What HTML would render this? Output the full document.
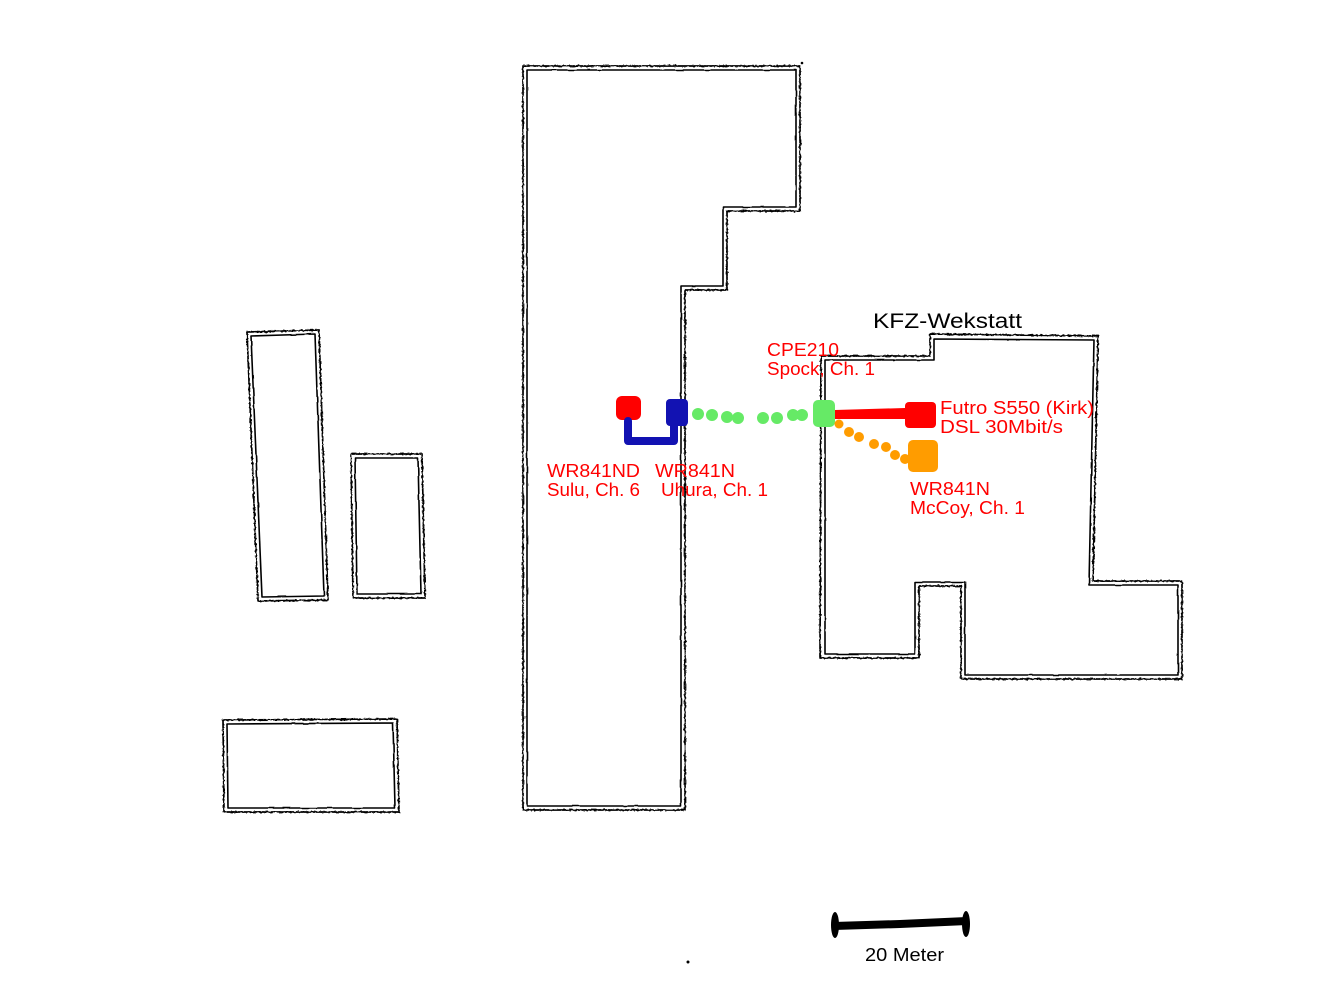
<!DOCTYPE html>
<html><head><meta charset="utf-8"><style>
html,body{margin:0;padding:0;background:#fff;}
svg{display:block;}
text{font-family:"Liberation Sans",sans-serif;}
</style></head><body>
<svg width="1324" height="1004" viewBox="0 0 1324 1004" xmlns="http://www.w3.org/2000/svg">
<defs>
  <filter id="rough" x="-5%" y="-5%" width="110%" height="110%">
    <feTurbulence type="fractalNoise" baseFrequency="0.35" numOctaves="2" seed="3" result="n"/>
    <feDisplacementMap in="SourceGraphic" in2="n" scale="2.6" xChannelSelector="R" yChannelSelector="G"/>
  </filter>
  <filter id="soft" x="-5%" y="-5%" width="110%" height="110%">
    <feTurbulence type="fractalNoise" baseFrequency="0.08" numOctaves="1" seed="7" result="n"/>
    <feDisplacementMap in="SourceGraphic" in2="n" scale="1.5" xChannelSelector="R" yChannelSelector="G"/>
  </filter>
</defs>
<rect width="1324" height="1004" fill="#fff"/>
<g fill="none" stroke="#000" stroke-linejoin="round" filter="url(#rough)">
  <polygon points="523,66 800,66 800,211 727,211 727,290 685,290 685,810 523,810" stroke-width="1.7"/>
  <polygon points="247,332 319,330 328,600 258,601" stroke-width="1.7"/>
  <polygon points="351,454 422,454 425,598 353,598" stroke-width="1.7"/>
  <polygon points="223,720 397,719 399,812 224,812" stroke-width="1.7"/>
  <polygon points="821,356 930,356 930,334 1098,336 1093,581 1182,581 1182,679 961,679 961,586 919,586 919,658 820,658" stroke-width="1.7"/>
</g>
<g fill="none" stroke="#000" stroke-linejoin="round" filter="url(#soft)">
  <polygon points="527,70 796,70 796,207 723,207 723,286 681,286 681,806 527,806" stroke-width="1.6"/>
  <polygon points="251,336 315,334 324,596 262,597" stroke-width="1.6"/>
  <polygon points="355,458 418,458 421,594 357,594" stroke-width="1.6"/>
  <polygon points="227,724 393,723 395,808 228,808" stroke-width="1.6"/>
  <polygon points="825,360 934,360 934,339 1094,340 1089,585 1178,585 1178,675 965,675 965,582 915,582 915,654 825,654" stroke-width="1.6"/>
</g>
<circle cx="688" cy="962" r="1.5" fill="#000"/>
<circle cx="802" cy="63" r="1.3" fill="#000"/>

<!-- red WR841ND -->
<rect x="616" y="396" width="25" height="24" rx="6" fill="#ff0000"/>
<!-- blue -->
<polyline points="628,421 628,441 674,441 674,424" fill="none" stroke="#1212b2" stroke-width="8" stroke-linecap="round" stroke-linejoin="round"/>
<rect x="666" y="399" width="22" height="27" rx="4" fill="#1212b2"/>
<!-- green dots -->
<g fill="#66ea66">
  <circle cx="698" cy="414" r="6"/>
  <circle cx="712" cy="415" r="6"/>
  <circle cx="727" cy="417" r="6"/>
  <circle cx="738" cy="418" r="6"/>
  <circle cx="763" cy="418" r="6"/>
  <circle cx="777" cy="418" r="6"/>
  <circle cx="793" cy="415" r="6"/>
  <circle cx="802" cy="415" r="6"/>
  <rect x="813" y="400" width="22" height="27" rx="5"/>
</g>
<!-- red line to Futro -->
<polygon points="835,410 905,408 905,419 835,419" fill="#ff0000"/>
<rect x="905" y="402" width="31" height="26" rx="4" fill="#ff0000"/>
<!-- orange -->
<g fill="#ff9c00">
  <circle cx="839" cy="424" r="4.5"/>
  <circle cx="849" cy="432" r="5"/>
  <circle cx="859" cy="437" r="5"/>
  <circle cx="874" cy="444" r="5"/>
  <circle cx="886" cy="447" r="5"/>
  <circle cx="895" cy="455" r="5"/>
  <circle cx="905" cy="459" r="5"/>
  <rect x="908" y="440" width="30" height="32" rx="5"/>
</g>

<!-- labels -->
<text x="873" y="328" font-size="21" fill="#000" textLength="149" lengthAdjust="spacingAndGlyphs">KFZ-Wekstatt</text>
<g fill="#ff0000" font-size="18">
  <text x="767" y="356" textLength="72" lengthAdjust="spacingAndGlyphs">CPE210</text>
  <text x="767" y="375" textLength="108" lengthAdjust="spacingAndGlyphs">Spock, Ch. 1</text>
  <text x="940" y="414" textLength="154" lengthAdjust="spacingAndGlyphs">Futro S550 (Kirk)</text>
  <text x="940" y="433" textLength="123" lengthAdjust="spacingAndGlyphs">DSL 30Mbit/s</text>
  <text x="547" y="477" textLength="93" lengthAdjust="spacingAndGlyphs">WR841ND</text>
  <text x="547" y="496" textLength="93" lengthAdjust="spacingAndGlyphs">Sulu, Ch. 6</text>
  <text x="655" y="477" textLength="80" lengthAdjust="spacingAndGlyphs">WR841N</text>
  <text x="661" y="496" textLength="107" lengthAdjust="spacingAndGlyphs">Uhura, Ch. 1</text>
  <text x="910" y="495" textLength="80" lengthAdjust="spacingAndGlyphs">WR841N</text>
  <text x="910" y="514" textLength="115" lengthAdjust="spacingAndGlyphs">McCoy, Ch. 1</text>
</g>

<!-- scale bar -->
<path d="M834,926 L900,924 L967,921" fill="none" stroke="#000" stroke-width="8"/>
<ellipse cx="835" cy="925" rx="4" ry="13" fill="#000"/>
<ellipse cx="966" cy="924" rx="4" ry="13" fill="#000"/>
<text x="865" y="961" font-size="18" fill="#000" textLength="79" lengthAdjust="spacingAndGlyphs">20 Meter</text>
</svg>
</body></html>
